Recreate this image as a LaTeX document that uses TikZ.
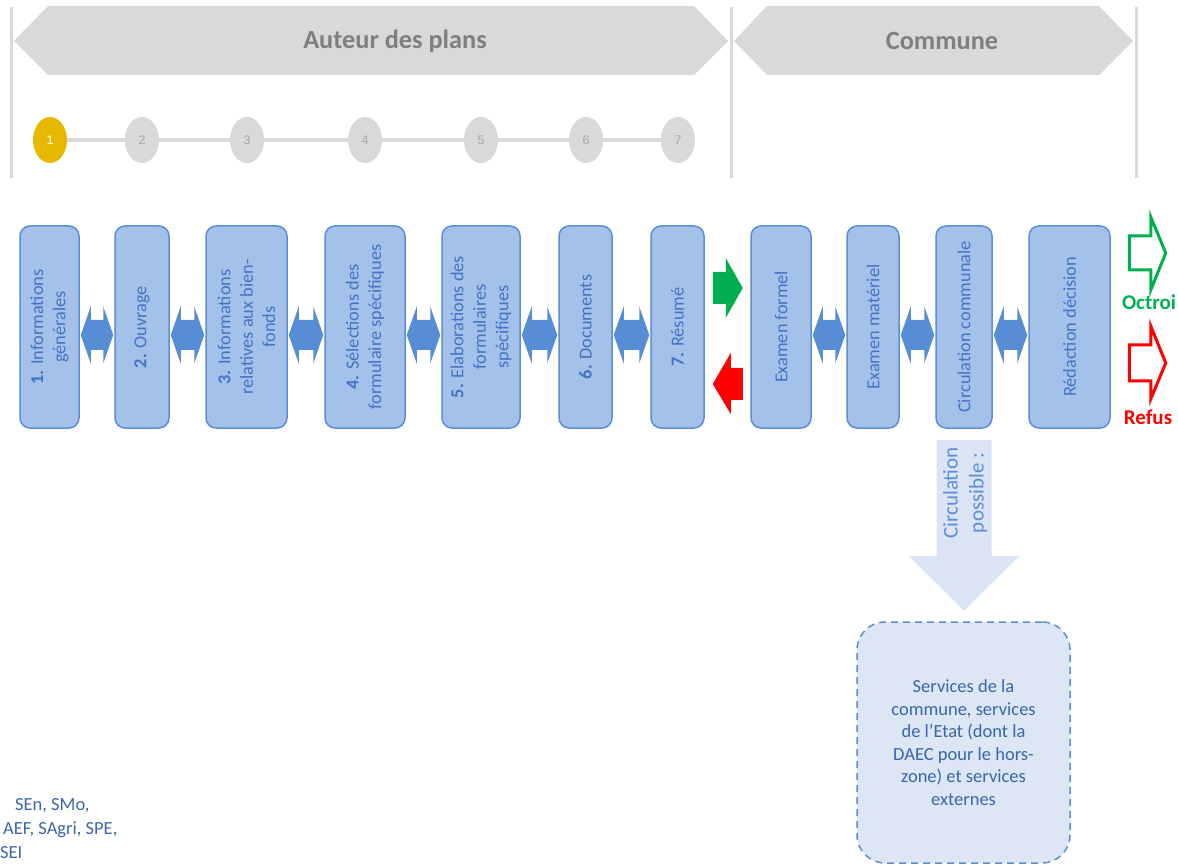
\documentclass[tikz,border=0pt]{standalone}
\usepackage{fontspec}
\setmainfont{Carlito}
\newfontfamily\arialf{Liberation Sans}
\usetikzlibrary{shapes.geometric,calc}
\definecolor{boxfill}{HTML}{A4C2E9}
\definecolor{boxline}{HTML}{5B8ED6}
\definecolor{boxtext}{HTML}{4472C4}
\definecolor{dblfill}{HTML}{568DD5}
\definecolor{hdrgrey}{HTML}{D9D9D9}
\definecolor{hdrtext}{HTML}{7F7F7F}
\definecolor{numgrey}{HTML}{A6A6A6}
\definecolor{gold}{HTML}{E6B800}
\definecolor{okgreen}{HTML}{00B050}
\definecolor{nored}{HTML}{FF0000}
\definecolor{circfill}{HTML}{DAE4F4}
\definecolor{svcfill}{HTML}{DCE6F4}
\definecolor{svctext}{HTML}{3A66AB}
\definecolor{circtext}{HTML}{5B8ED6}
\newcommand\dblarrow[2]{%
  \fill[dbl] ($(#1.east)+(1,8)$) -- ($(#1.east)+(11,-20.5)$) -- ($(#1.east)+(11,-7)$)
    -- ($(#2.west)+(-11,-7)$) -- ($(#2.west)+(-11,-20.5)$) -- ($(#2.west)+(-1,8)$)
    -- ($(#2.west)+(-11,36.5)$) -- ($(#2.west)+(-11,23)$)
    -- ($(#1.east)+(11,23)$) -- ($(#1.east)+(11,36.5)$) -- cycle;}
\begin{document}
\begin{tikzpicture}[x=1pt,y=-1pt,
  stepbox/.style={draw=boxline, fill=boxfill, line width=1.5pt, rounded corners=10pt,
    minimum height=202pt, inner sep=0pt},
  boxlabel/.style={rotate=90, align=center, text=boxtext, inner sep=0pt,
    font=\fontsize{18.3}{22.4}\selectfont},
  dbl/.style={fill=dblfill},
  stepdot/.style={ellipse, fill=hdrgrey, minimum width=34pt, minimum height=46pt,
    inner sep=0pt, text=numgrey, font=\arialf\fontsize{12.5}{12.5}\selectfont},
  hdrlabel/.style={text=hdrtext, font=\bfseries\fontsize{26.3}{26.3}\selectfont},
  vline/.style={draw=hdrgrey, line width=3pt},
  dotline/.style={draw=hdrgrey, line width=4pt},
  outarrow/.style={line width=3pt, miter limit=10},
  reslabel/.style={font=\bfseries\fontsize{21}{21}\selectfont},
  leftnote/.style={anchor=base west, inner sep=0pt, text=svctext, font=\fontsize{18.5}{18.5}\selectfont},
]
\useasboundingbox (0,0) rectangle (1178,866);
\clip (0,0) rectangle (1178,866);

% header
\draw[vline] (11,7) -- (11,178);
\draw[vline] (731,7) -- (731,178);
\draw[vline] (1136,7) -- (1136,178);
\fill[hdrgrey] (14,41) -- (48,6) -- (694,6) -- (728,41) -- (694,75) -- (48,75) -- cycle;
\fill[hdrgrey] (734,41) -- (767,6) -- (1099,6) -- (1133,41) -- (1099,75) -- (767,75) -- cycle;
\node[hdrlabel] (hA) at (395,41) {Auteur des plans};
\node[hdrlabel] (hC) at (942,41) {Commune};

% progress dots
\node[stepdot, fill=gold, text=white] (c1) at (50,140) {1};
\node[stepdot] (c2) at (142,140) {2};
\node[stepdot] (c3) at (247,140) {3};
\node[stepdot] (c4) at (365,140) {4};
\node[stepdot] (c5) at (481,140) {5};
\node[stepdot] (c6) at (586,140) {6};
\node[stepdot] (c7) at (678,140) {7};
\draw[dotline] (c1) -- (c2);
\draw[dotline] (c2) -- (c3);
\draw[dotline] (c3) -- (c4);
\draw[dotline] (c4) -- (c5);
\draw[dotline] (c5) -- (c6);
\draw[dotline] (c6) -- (c7);

% step boxes
\node[stepbox, minimum width=59pt] (b1) at (49.5,327) {};
\node[stepbox, minimum width=54pt] (b2) at (142,327) {};
\node[stepbox, minimum width=81pt] (b3) at (246.5,327) {};
\node[stepbox, minimum width=80pt] (b4) at (365,327) {};
\node[stepbox, minimum width=78pt] (b5) at (481,327) {};
\node[stepbox, minimum width=53pt] (b6) at (585.5,327) {};
\node[stepbox, minimum width=53pt] (b7) at (677.5,327) {};
\node[stepbox, minimum width=60pt] (e1) at (781,327) {};
\node[stepbox, minimum width=52pt] (e2) at (873,327) {};
\node[stepbox, minimum width=56pt] (e3) at (964,327) {};
\node[stepbox, minimum width=81pt] (e4) at (1069.5,327) {};

\node[boxlabel] (t1) at (b1) {\textbf{1.} Informations\\générales};
\node[boxlabel] (t2) at (b2) {\textbf{2.} Ouvrage};
\node[boxlabel] (t3) at (b3) {\textbf{3.} Informations\\relatives aux bien-\\fonds};
\node[boxlabel] (t4) at (b4) {\textbf{4.} Sélections des\\formulaire spécifiques};
\node[boxlabel] (t5) at (b5) {\textbf{5.} Elaborations des\\formulaires\\spécifiques};
\node[boxlabel] (t6) at (b6) {\textbf{6.} Documents};
\node[boxlabel] (t7) at (b7) {\textbf{7.} Résumé};
\node[boxlabel] (u1) at (e1) {Examen formel};
\node[boxlabel] (u2) at (e2) {Examen matériel};
\node[boxlabel] (u3) at (e3) {Circulation communale};
\node[boxlabel] (u4) at (e4) {Rédaction décision};

% double arrows
\dblarrow{b1}{b2}
\dblarrow{b2}{b3}
\dblarrow{b3}{b4}
\dblarrow{b4}{b5}
\dblarrow{b5}{b6}
\dblarrow{b6}{b7}
\dblarrow{e1}{e2}
\dblarrow{e2}{e3}
\dblarrow{e3}{e4}

% green / red arrows between phases
\fill[okgreen] ($(b7.east)+(8,-55)$) -- ($(b7.east)+(21,-55)$) -- ($(b7.east)+(21,-69)$)
  -- ($(b7.east)+(38,-39)$) -- ($(b7.east)+(21,-9)$) -- ($(b7.east)+(21,-23)$)
  -- ($(b7.east)+(8,-23)$) -- cycle;
\fill[nored] ($(b7.east)+(8,57)$) -- ($(b7.east)+(26,26)$) -- ($(b7.east)+(26,41)$)
  -- ($(b7.east)+(38,41)$) -- ($(b7.east)+(38,73)$) -- ($(b7.east)+(26,73)$)
  -- ($(b7.east)+(26,87)$) -- cycle;

% outcome arrows
\draw[outarrow, draw=okgreen] ($(e4.east)+(18.5,-91)$) -- ($(e4.east)+(40,-91)$)
  -- ($(e4.east)+(40,-110)$) -- ($(e4.east)+(55,-74)$) -- ($(e4.east)+(40,-37)$)
  -- ($(e4.east)+(40,-57)$) -- ($(e4.east)+(18.5,-57)$) -- cycle;
\draw[outarrow, draw=nored] ($(e4.east)+(18.5,18)$) -- ($(e4.east)+(40,18)$)
  -- ($(e4.east)+(40,-1)$) -- ($(e4.east)+(55,36)$) -- ($(e4.east)+(40,72)$)
  -- ($(e4.east)+(40,54)$) -- ($(e4.east)+(18.5,54)$) -- cycle;
\node[reslabel, text=okgreen] (oct) at (1149,302) {Octroi};
\node[reslabel, text=nored] (ref) at (1148,417) {Refus};

% circulation arrow
\fill[circfill] ($(e3.south)+(-27.5,11)$) -- ($(e3.south)+(27.5,11)$)
  -- ($(e3.south)+(27.5,127)$) -- ($(e3.south)+(55.5,127)$) -- ($(e3.south)+(0,182)$)
  -- ($(e3.south)+(-55.5,127)$) -- ($(e3.south)+(-27.5,127)$) -- cycle;
\node[rotate=90, align=center, text=circtext, inner sep=0pt,
  font=\fontsize{21}{26}\selectfont] (circ) at (965,493) {Circulation\\possible :};

% services box
\node[draw=boxline, fill=svcfill, line width=1.5pt, dash pattern=on 7pt off 5pt,
  rounded corners=28pt, minimum width=213pt, minimum height=241pt, align=center,
  text=svctext, font=\fontsize{18.5}{22.5}\selectfont] (svc) at (963.5,742.5)
  {Services de la\\commune, services\\de l’Etat (dont la\\DAEC pour le hors-\\zone) et services\\externes};

% cut-off text bottom left
\node[leftnote] (l1) at (15,810) {SEn, SMo,};
\node[leftnote] (l2) at (3,834) {AEF, SAgri, SPE,};
\node[leftnote] (l3) at (0,858) {SEI};
\end{tikzpicture}
\end{document}
